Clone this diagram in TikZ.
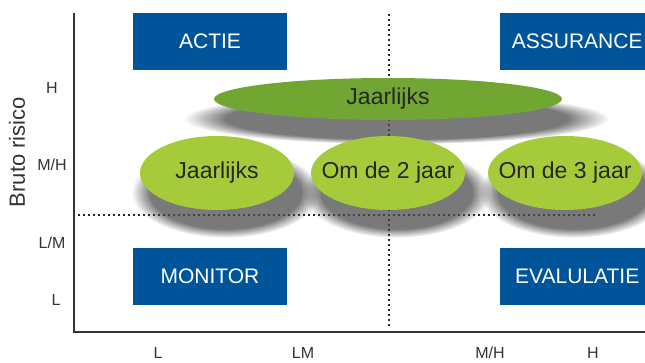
\documentclass[tikz,border=0pt]{standalone}
\usepackage{fontspec}
\setmainfont{Liberation Sans}
\usetikzlibrary{positioning, shapes.geometric, shadows, fadings}
\definecolor{kwadblauw}{HTML}{00559A}
\definecolor{donkergroen}{HTML}{72A632}
\definecolor{lichtgroen}{HTML}{A6CB3A}
\definecolor{asgrijs}{HTML}{333333}
\newcommand{\nulbreed}[1]{\makebox[0pt]{#1}}

\begin{document}
\begin{tikzpicture}[
  x=1pt, y=-1pt,
  quadrant/.style={rectangle, fill=kwadblauw, text=white, minimum width=154pt, minimum height=57pt,
                   inner sep=0pt, font=\fontsize{21}{23}\selectfont},
  schaduw/.style={drop shadow={shadow xshift=7pt, shadow yshift=-16pt, shadow scale=1.22, opacity=.75,
                  fill=black!70, path fading=circle with fuzzy edge 20 percent}},
  freq/.style={ellipse, fill=lichtgroen, text=black!85, minimum width=154pt, minimum height=74pt,
               inner sep=0pt, font=\fontsize{23}{25}\selectfont, schaduw},
  breed/.style={freq, fill=donkergroen, minimum width=348pt, minimum height=42pt},
  niveau/.style={font=\fontsize{16}{18}\selectfont, text=asgrijs},
  as/.style={line width=2pt, draw=asgrijs},
  grens/.style={line width=1.8pt, dash pattern=on 2.4pt off 2.6pt, draw=black!85},
]
  \useasboundingbox (0,0) rectangle (645,362);
  % assen
  \coordinate (top) at (74,13);
  \coordinate (origin) at (74,332);
  \coordinate (eind) at (645,332);
  \draw[as] (top) -- (origin) -- (eind);
  \node[rotate=90, font=\fontsize{22}{24}\selectfont, text=asgrijs] (yas) at (17,152) {Bruto risico};
  \node[niveau] (yh) at (52,88) {H};
  \node[niveau] (ymh) at (52,165) {M/H};
  \node[niveau] (ylm) at (52,243) {L/M};
  \node[niveau] (yl) at (56,300) {L};
  \node[niveau] (xl) at (158,353) {L};
  \node[niveau] (xlm) at (303,353) {LM};
  \node[niveau] (xmh) at (490,353) {M/H};
  \node[niveau] (xh) at (593,353) {H};
  % scheidingslijnen
  \coordinate (vboven) at (389,14);
  \coordinate (vonder) at (389,326);
  \coordinate (hlinks) at (78,215);
  \coordinate (hrechts) at (596,215);
  \draw[grens] (vboven) -- (vonder);
  \draw[grens] (hlinks) -- (hrechts);
  % kwadranten
  \node[quadrant] (actie) at (210,41.5) {ACTIE};
  \node[quadrant, anchor=west] (assurance) at (500,41.5) {ASSURANCE};
  \node[quadrant] (monitor) at (210,276.5) {MONITOR};
  \node[quadrant, anchor=west] (evalulatie) at (500,276.5) {EVALULATIE};
  % frequenties
  \node[breed] (jaarboven) at (388,99) {\nulbreed{Jaarlijks}};
  \node[freq] (jaar) at (217,173) {\nulbreed{Jaarlijks}};
  \node[freq] (twee) at (388,173) {\nulbreed{Om de 2 jaar}};
  \node[freq] (drie) at (565,173) {\nulbreed{Om de 3 jaar}};
\end{tikzpicture}
\end{document}
